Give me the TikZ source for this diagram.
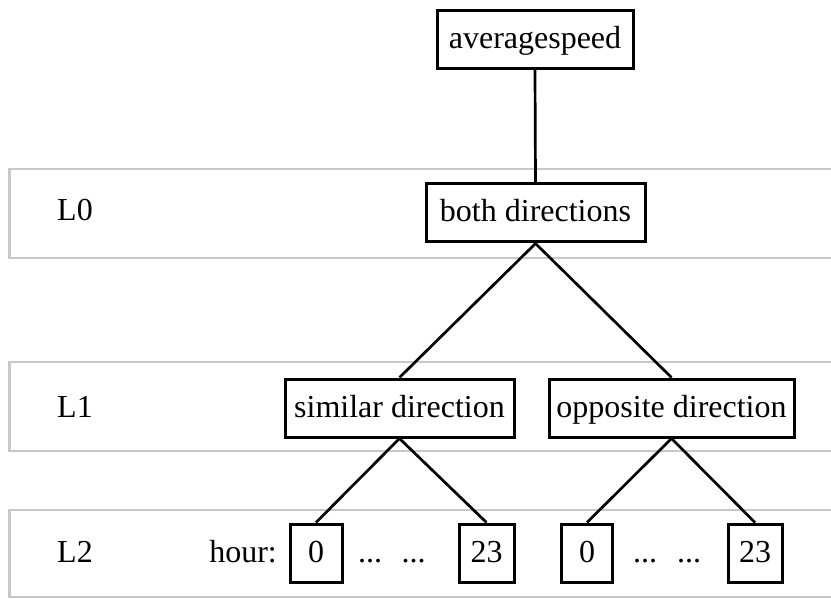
\documentclass[tikz,border=0pt]{standalone}
\usepackage{fontspec}
\setmainfont{Liberation Serif}
\definecolor{bandgray}{RGB}{200,200,200}
\tikzset{
  levelbox/.style={draw, line width=3pt, minimum height=58pt, inner sep=0pt, text height=22pt, text depth=4pt},
  link/.style={line width=2.7pt},
  band/.style={draw=bandgray, line width=2.5pt},
  plain/.style={inner sep=0pt},
}
\begin{document}
\begin{tikzpicture}[x=1pt, y=-1pt, font=\fontsize{32}{38}\selectfont]
  \useasboundingbox (0,0) rectangle (831,599);

  % Draw the level bands (open to the right)
  \draw[band] (835,169) -- (9.5,169) -- (9.5,258) -- (835,258);
  \draw[band] (835,362) -- (9.5,362) -- (9.5,451) -- (835,451);
  \draw[band] (835,510) -- (9.5,510) -- (9.5,597) -- (835,597);

  % Level names
  \node[plain, anchor=base west] (l0) at (57,221) {L0};
  \node[plain, anchor=base west] (l1) at (57,417) {L1};
  \node[plain, anchor=base west] (l2) at (57,562) {L2};

  % Tree nodes
  \node[levelbox, minimum width=196pt] (avg) at (535,39.5) {averagespeed};
  \node[levelbox, minimum width=219pt] (both) at (535.5,213) {both directions};
  \node[levelbox, minimum width=229pt] (similar) at (399.5,408) {similar direction};
  \node[levelbox, minimum width=245pt] (opposite) at (671.5,408) {opposite direction};

  % Hour leaves
  \node[plain, anchor=base east] (hour) at (277,562) {hour:};
  \node[levelbox, minimum width=52pt] (simfirst) at (316,553) {0};
  \node[levelbox, minimum width=55pt] (simlast) at (486.5,553) {23};
  \node[levelbox, minimum width=51pt] (oppfirst) at (587,553) {0};
  \node[levelbox, minimum width=54pt] (opplast) at (755,553) {23};
  \node[plain, anchor=base] (simdotsa) at (370,562) {...};
  \node[plain, anchor=base] (simdotsb) at (413.5,562) {...};
  \node[plain, anchor=base] (oppdotsa) at (645,562) {...};
  \node[plain, anchor=base] (oppdotsb) at (689,562) {...};

  % Connect the tree
  \draw[link] (avg.south) -- (both.north);
  \draw[link] (both.south) -- (similar.north);
  \draw[link] (both.south) -- (opposite.north);
  \draw[link] (similar.south) -- (simfirst.north);
  \draw[link] (similar.south) -- (simlast.north);
  \draw[link] (opposite.south) -- (oppfirst.north);
  \draw[link] (opposite.south) -- (opplast.north);
\end{tikzpicture}
\end{document}
